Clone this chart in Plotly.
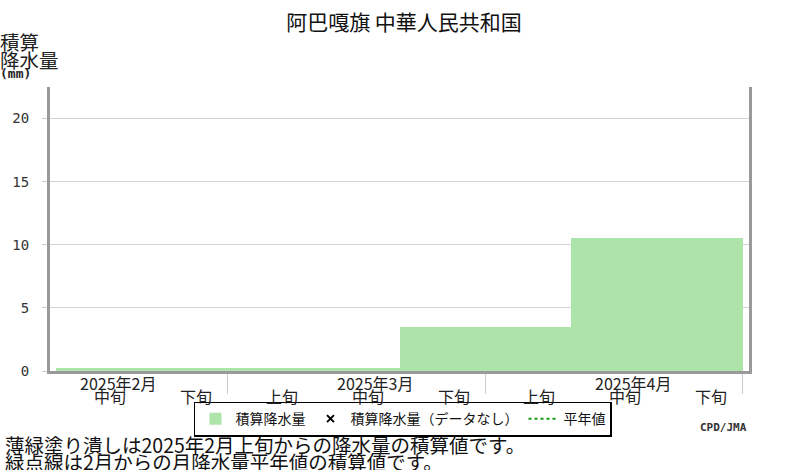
import plotly.graph_objects as go

# dekad index: 0 = 2025年2月上旬 ... 8 = 2025年4月下旬
months = ["2025年2月", "2025年3月", "2025年4月"]
dekads = ["上旬", "中旬", "下旬"]
dekad_idx = [1, 2, 3, 4, 5, 6, 7, 8]
accum_precip = [0.2, 0.2, 0.2, 0.2, 3.5, 3.5, 10.5, 10.5]
# no missing dekads and no normals drawn on this chart
nodata_vals = [None, None, None, None, None, None, None, None]
normal_vals = [None, None, None, None, None, None, None, None]

jp = "Noto Sans CJK JP"
bar_green = "#ace4aa"
xc = [i + 0.5 for i in dekad_idx]

fig = go.Figure()
fig.add_trace(go.Bar(
    x=xc, y=accum_precip, width=1,
    marker=dict(color=bar_green, line=dict(width=0)),
    name="積算降水量",
))
fig.add_trace(go.Scatter(
    x=xc, y=nodata_vals, mode="markers",
    marker=dict(symbol="x-thin", size=7, color="black", line=dict(width=2, color="black")),
    name="積算降水量（データなし）",
))
fig.add_trace(go.Scatter(
    x=xc, y=normal_vals, mode="lines",
    line=dict(color="#119911", width=2, dash="dot"),
    name="平年値",
))

annotations = []
# dekad labels under the axis
for i in dekad_idx:
    annotations.append(dict(
        x=i + 0.5 + 0.13, y=0, xref="x", yref="paper", yanchor="middle",
        yshift=-25, text=dekads[i % 3], showarrow=False,
        font=dict(family=jp, size=16, color="#222"),
    ))
# month labels, put over the 中旬 label
for m, name in enumerate(months):
    annotations.append(dict(
        x=m * 3 + 1.5 + 0.22, y=0, xref="x", yref="paper", yanchor="middle",
        yshift=-12, text=name, showarrow=False,
        font=dict(family=jp, size=16, color="#222"),
    ))

# y axis title, one line at a time
ytitle = [("積算", 19.5, 41), ("降水量", 19.5, 59), ("<b>(mm)</b>", 13, 73)]
for txt, sz, ypx in ytitle:
    annotations.append(dict(
        x=0, y=1, xref="paper", yref="paper", xanchor="left", yanchor="middle",
        xshift=-52, yshift=87 - ypx, text=txt, showarrow=False,
        font=dict(family=jp if sz > 14 else "DejaVu Sans Mono", size=sz, color="#222"),
    ))

notes = ["薄緑塗り潰しは2025年2月上旬からの降水量の積算値です。",
         "緑点線は2月からの月降水量平年値の積算値です。"]
for k, txt in enumerate(notes):
    annotations.append(dict(
        x=0, y=0, xref="paper", yref="paper", xanchor="left", yanchor="middle",
        xshift=-47, yshift=-(444 + 16.5 * k - 370.5), text=txt, showarrow=False,
        font=dict(family=jp, size=19.5, color="#111"),
    ))

annotations.append(dict(
    x=1, y=0, xref="paper", yref="paper", xanchor="right", yanchor="middle",
    xshift=0, yshift=-(427 - 370.5), text="<b>CPD/JMA</b>", showarrow=False,
    font=dict(family="DejaVu Sans Mono", size=11, color="#333"),
))

fig.update_layout(
    width=800, height=470,
    margin=dict(l=50, r=51, t=87, b=99),
    paper_bgcolor="white", plot_bgcolor="white",
    title=dict(text="阿巴嘎旗 中華人民共和国", x=0.505, xanchor="center",
               y=1 - 23 / 470, yanchor="middle", yref="container",
               font=dict(family=jp, size=21, color="#111")),
    xaxis=dict(range=[0.925, 9.075], showline=True, linewidth=3, linecolor="#999",
               tickvals=[3, 6, 9], ticks="outside", ticklen=20, tickcolor="#ccc",
               tickwidth=1, showticklabels=False, showgrid=False, zeroline=False),
    yaxis=dict(range=[0, 22.5], showline=True, mirror=True, linewidth=3, linecolor="#999",
               tickvals=[0, 5, 10, 15, 20], ticks="outside", ticklen=5, tickcolor="#ccc",
               ticklabelstandoff=10, gridcolor="#d3d3d3", zeroline=False,
               tickfont=dict(family="DejaVu Sans Mono", size=14, color="#333")),
    showlegend=True,
    legend=dict(orientation="h", x=0.505, xanchor="center", y=(370.5 - 401) / 283.5,
                yanchor="top", bordercolor="black", borderwidth=1.5,
                font=dict(family=jp, size=14, color="#111"), itemwidth=30,
                tracegroupgap=0, bgcolor="white"),
    annotations=annotations,
    bargap=0,
)

fig.write_html("out.html", config={"displayModeBar": False},
               post_script="document.body.style.margin='0';")
